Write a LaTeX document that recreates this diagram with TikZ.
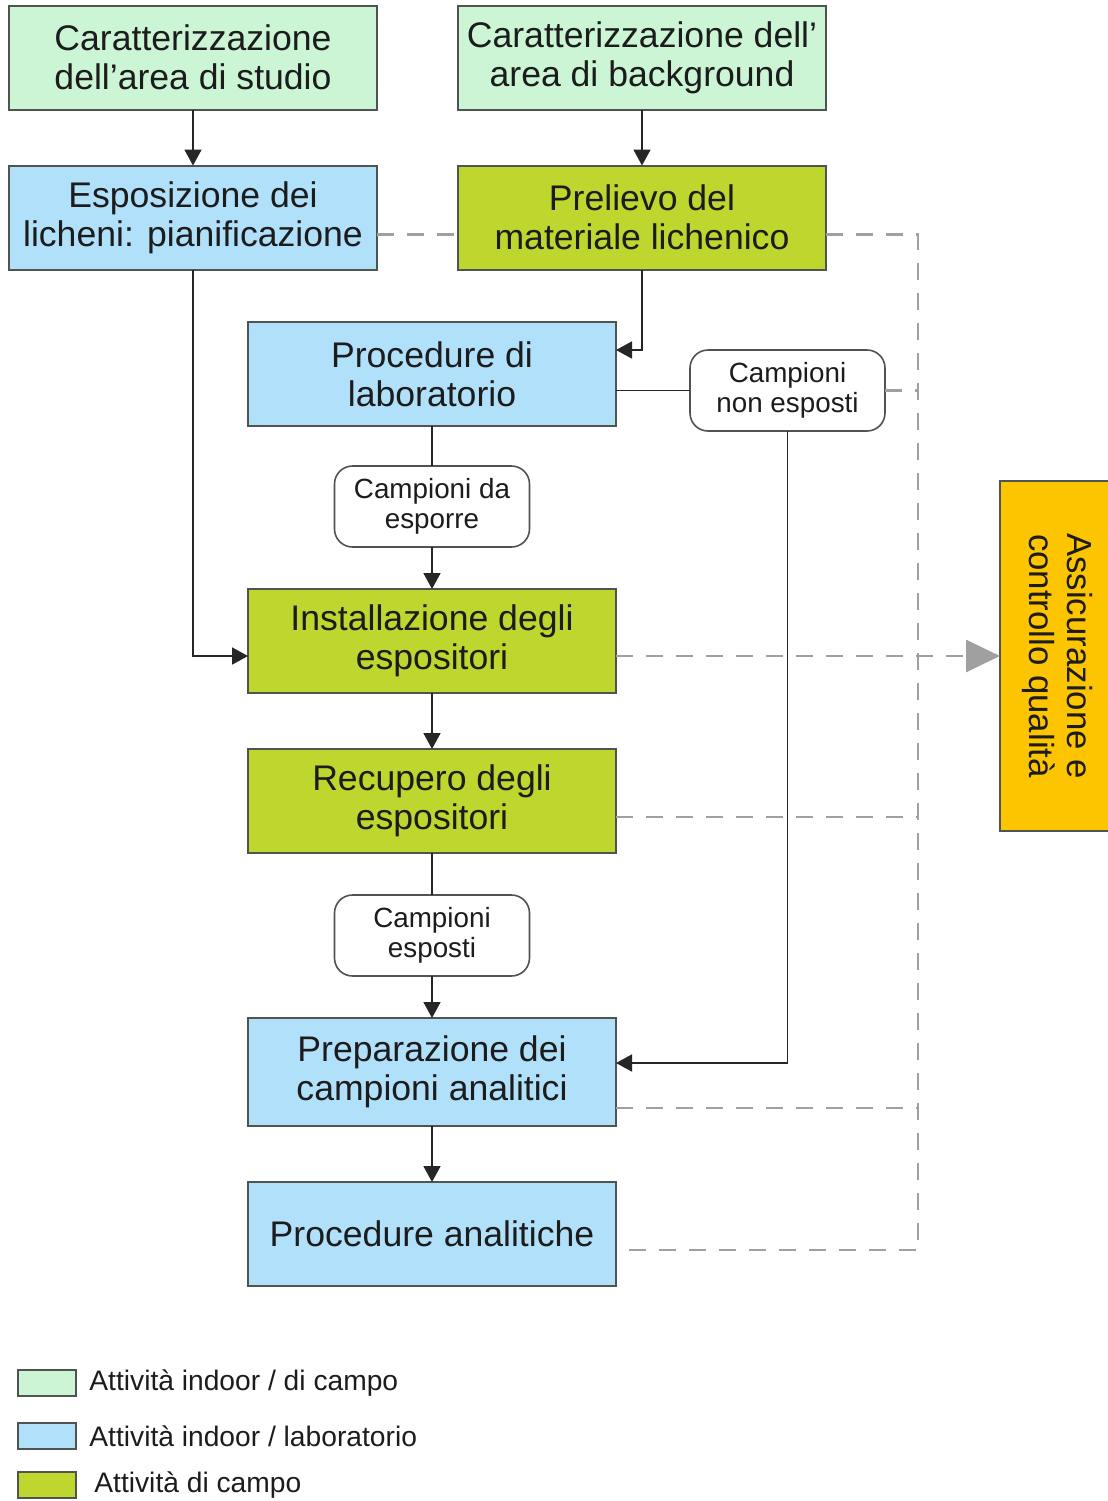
\documentclass[tikz,border=0pt]{standalone}
\usepackage{fontspec}
\setmainfont{Liberation Sans}
\usetikzlibrary{positioning,arrows.meta,calc}

\definecolor{indoorfield}{RGB}{204,245,214}
\definecolor{indoorlab}{RGB}{176,224,250}
\definecolor{fieldwork}{RGB}{190,214,46}
\definecolor{qaorange}{RGB}{253,196,0}
\definecolor{boxline}{RGB}{80,84,80}
\definecolor{textdark}{RGB}{28,28,28}
\definecolor{qcgray}{RGB}{160,160,160}

\begin{document}
\begin{tikzpicture}[x=0.5pt,y=-0.5pt,
                box/.style={rectangle, draw=boxline, line width=1pt, outer sep=0pt, minimum width=184pt, minimum height=52pt, align=center, inner sep=2pt, text=textdark, font=\fontsize{17.8}{19.5}\selectfont},
                field/.style={fill=indoorfield},
                lab/.style={fill=indoorlab},
                fieldact/.style={fill=fieldwork},
                samplebox/.style={rectangle, rounded corners=9pt, draw=boxline, fill=white, line width=0.8pt, outer sep=0pt, minimum width=97.5pt, minimum height=40.5pt, align=center, inner sep=2pt, text=textdark, font=\fontsize{13.9}{15}\selectfont},
                arrow/.style={-{Triangle[length=8pt,width=8.5pt]}, line width=0.9pt, draw=black!85},
                joinline/.style={line width=0.9pt, draw=black!85},
                qcline/.style={qcgray, line width=1.4pt, dash pattern=on 8.5pt off 6.5pt},
                qcarrow/.style={qcline, -{Triangle[length=17pt,width=16pt]}},
                legendkey/.style={rectangle, draw=boxline, line width=1pt, minimum width=29pt, minimum height=13pt, inner sep=0pt},
                legendtext/.style={inner sep=0pt, text=textdark, font=\fontsize{14.1}{16}\selectfont}
            ]
                \useasboundingbox (0,0) rectangle (1108,1501);

                % upper two columns
                \node[box, field] (studio) at (193,57.5) {Caratterizzazione\\dell’area di studio};
                \node[box, field, right=40.5pt of studio] (backgr) {Caratterizzazione dell’\\area di background};
                \node[box, lab, below=28pt of studio] (plan) {Esposizione dei\\licheni: pianificazione};
                \node[box, fieldact, below=28pt of backgr] (prelievo) {Prelievo del\\materiale lichenico};

                % main column
                \node[box, lab] (labproc) at (432,374) {Procedure di\\laboratorio};
                \node[samplebox, below=20pt of labproc] (daesporre) {Campioni da\\esporre};
                \node[box, fieldact, below=21pt of daesporre] (install) {Installazione degli\\espositori};
                \node[box, fieldact, below=28pt of install] (recupero) {Recupero degli\\espositori};
                \node[samplebox, below=21pt of recupero] (esposti) {Campioni\\esposti};
                \node[box, lab, minimum height=54pt, below=21pt of esposti] (prep) {Preparazione dei\\campioni analitici};
                \node[box, lab, below=28pt of prep] (analitiche) {Procedure analitiche};

                \node[samplebox] (nonesposti) at (787.5,390.5) {Campioni\\non esposti};

                % quality assurance
                \node[rectangle, draw=boxline, line width=1pt, outer sep=0pt, fill=qaorange, minimum width=175pt, minimum height=57pt, text=textdark, font=\fontsize{17.4}{19}\selectfont, align=center, rotate=-90, inner sep=2pt] (qa) at (1057,656) {Assicurazione e\\controllo qualità};

                % dashed links to quality assurance
                \coordinate (qcx) at (918,0);
                \path ([yshift=-8.5pt]prelievo.east) coordinate (qcfrom)
                      ([yshift=-8pt]analitiche.east) coordinate (qcto);
                \draw[qcline] ([yshift=-8.5pt]plan.east) -- ([yshift=-8.5pt]prelievo.west);
                \draw[qcline] (qcfrom) -- (qcfrom -| qcx) -- (qcto -| qcx) -- (qcto);
                \draw[qcline] (nonesposti.east) -- (nonesposti.east -| qcx);
                \draw[qcline] ([yshift=-8pt]recupero.east) -- ([yshift=-8pt]recupero.east -| qcx);
                \draw[qcline] ([yshift=-18pt]prep.east) -- ([yshift=-18pt]prep.east -| qcx);
                \draw[qcarrow] (qa.south -| install.east) -- (qa.south);

                % flow
                \draw[arrow] (studio) -- (plan);
                \draw[arrow] (backgr) -- (prelievo);
                \draw[arrow] (prelievo.south) |- ([yshift=12pt]labproc.east);
                \draw[joinline] (nonesposti.west) -- (nonesposti.west -| labproc.east);
                \draw[arrow] (nonesposti.south) |- ([yshift=4.5pt]prep.east);
                \draw[joinline] (labproc) -- (daesporre);
                \draw[arrow] (daesporre) -- (install);
                \draw[arrow] (plan.south) |- ([yshift=-7.5pt]install.west);
                \draw[arrow] (install) -- (recupero);
                \draw[joinline] (recupero) -- (esposti);
                \draw[arrow] (esposti) -- (prep);
                \draw[arrow] (prep) -- (analitiche);

                % legend
                \node[legendkey, field] (keyfield) at (47,1383) {};
                \node[legendkey, lab] (keylab) at (47,1436) {};
                \node[legendkey, fieldact] (keyact) at (47,1485) {};
                \node[legendtext, right=6pt of keyfield] (txtfield) {Attività indoor / di campo};
                \node[legendtext, right=6pt of keylab] (txtlab) {Attività indoor / laboratorio};
                \node[legendtext, right=8.5pt of keyact] (txtact) {Attività di campo};
            \end{tikzpicture}
\end{document}
